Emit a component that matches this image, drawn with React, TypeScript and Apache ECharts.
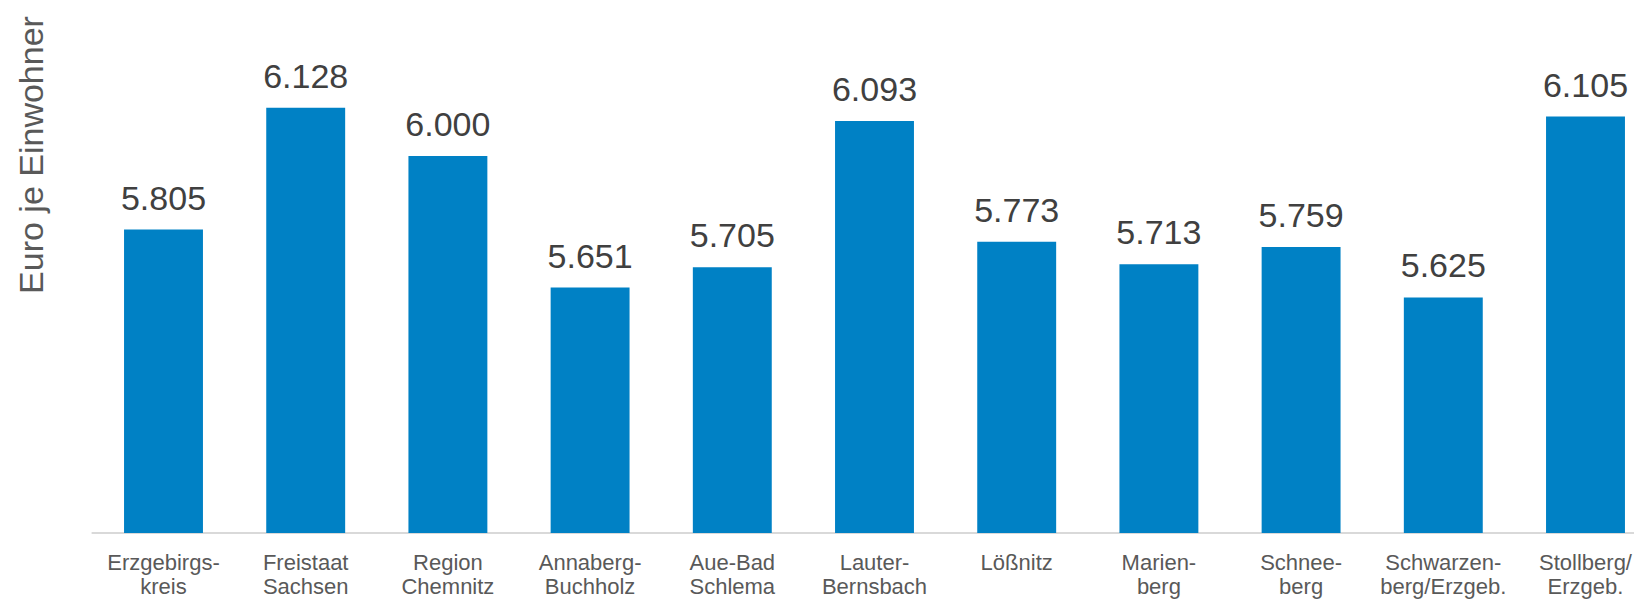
import React, { useEffect, useRef } from "react";
import * as echarts from "echarts";

const categories = [
  "Erzgebirgs-\nkreis",
  "Freistaat\nSachsen",
  "Region\nChemnitz",
  "Annaberg-\nBuchholz",
  "Aue-Bad\nSchlema",
  "Lauter-\nBernsbach",
  "Lößnitz",
  "Marien-\nberg",
  "Schnee-\nberg",
  "Schwarzen-\nberg/Erzgeb.",
  "Stollberg/\nErzgeb.",
];
const values = [5.805, 6.128, 6.0, 5.651, 5.705, 6.093, 5.773, 5.713, 5.759, 5.625, 6.105];
const yAxisTitle = "Euro je Einwohner";

const FONT = '"Liberation Sans", Arial, sans-serif';

export default function App() {
  const ref = useRef<HTMLDivElement>(null);
  useEffect(() => {
    if (!ref.current) return;
    const chart = echarts.init(ref.current, undefined, { renderer: "svg" });
    chart.setOption({
      animation: false,
      backgroundColor: "#ffffff",
      grid: {
        left: 92.4,
        right: -22.6,
        top: 43,
        bottom: 67,
        containLabel: false,
        outerBoundsMode: "none",
      },
      xAxis: {
        type: "category",
        data: categories,
        axisLine: { show: true, lineStyle: { color: "#d9d9d9", width: 2 } },
        axisTick: { show: false },
        axisLabel: {
          interval: 0,
          color: "#595959",
          fontSize: 22,
          fontFamily: FONT,
          lineHeight: 24,
          margin: 17,
        },
      },
      yAxis: {
        type: "value",
        min: 5,
        max: 6.3,
        show: false,
        splitLine: { show: false },
      },
      series: [
        {
          type: "bar",
          data: values,
          barWidth: "55.5%",
          itemStyle: { color: "#0081c5" },
          label: {
            show: true,
            position: "top",
            distance: 15,
            color: "#404040",
            fontSize: 34,
            lineHeight: 34,
            fontFamily: FONT,
            formatter: (p: any) => p.value.toFixed(3),
          },
        },
      ],
      graphic: [
        {
          type: "text",
          x: 31,
          y: 155,
          rotation: Math.PI / 2,
          style: {
            text: yAxisTitle,
            fill: "#595959",
            font: `34px ${FONT}`,
            align: "center",
            verticalAlign: "middle",
          },
        },
      ],
    });
    return () => chart.dispose();
  }, []);
  return (
    <div
      ref={ref}
      style={{ position: "fixed", left: 0, top: 0, width: 1634, height: 600 }}
    />
  );
}
